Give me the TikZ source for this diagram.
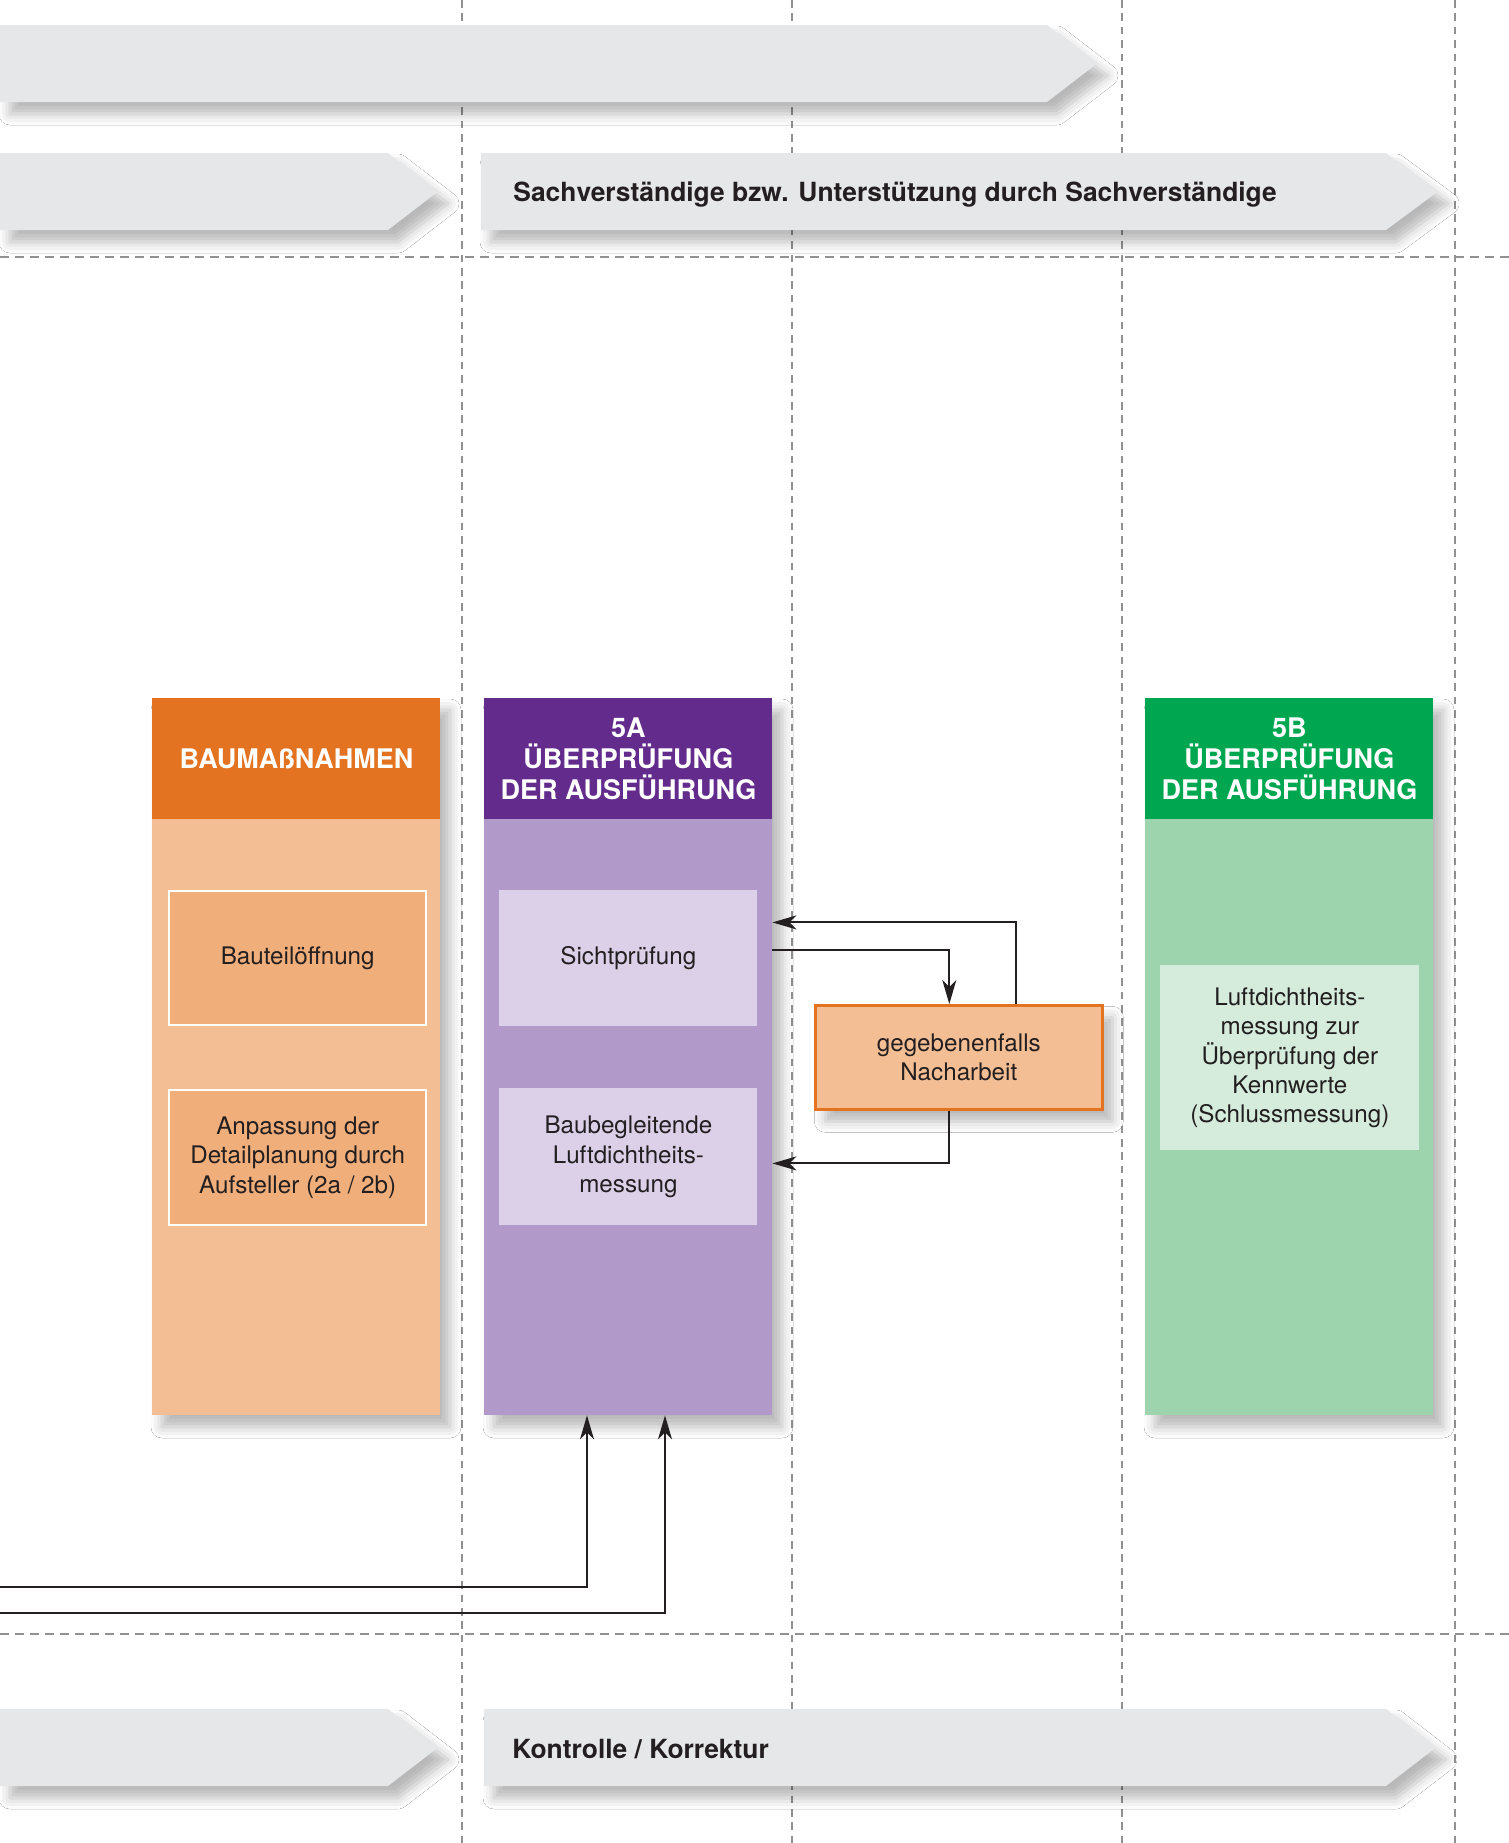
\documentclass[tikz,border=0pt]{standalone}
\usepackage{fontspec}
\setmainfont{TeX Gyre Heros}
\usetikzlibrary{arrows.meta,positioning,calc,fit,shadows.blur}
\definecolor{orangeDark}{RGB}{227,115,32}
\definecolor{orangeLight}{RGB}{244,190,148}
\definecolor{orangeMid}{RGB}{240,174,123}
\definecolor{purpleDark}{RGB}{99,44,140}
\definecolor{purpleLight}{RGB}{177,154,202}
\definecolor{purplePale}{RGB}{219,208,231}
\definecolor{greenDark}{RGB}{0,166,80}
\definecolor{greenLight}{RGB}{157,212,174}
\definecolor{greenPale}{RGB}{213,235,219}
\definecolor{bandGrey}{RGB}{230,231,232}
\definecolor{lineGrey}{RGB}{145,145,145}
\definecolor{inkDark}{RGB}{35,31,32}

\begin{document}
\begin{tikzpicture}[
    x=0.5pt,y=-0.5pt,
    grid/.style={lineGrey,line width=1.2pt,dash pattern=on 3.8pt off 2.9pt},
    softshadow/.style={blur shadow={shadow xshift=5pt,shadow yshift=-6pt,
        shadow blur radius=5.5pt,shadow opacity=28}},
    band/.style={fill=bandGrey,softshadow},
    bandtext/.style={anchor=west,inner sep=0pt,text=inkDark,
        font=\fontsize{13.2}{15}\selectfont\bfseries},
    colbody/.style={inner sep=0pt,softshadow},
    colhead/.style={inner sep=0pt,anchor=north west,minimum width=144pt,
        minimum height=60.5pt,text=white,align=center,
        font=\fontsize{13.5}{15.3}\selectfont\bfseries},
    task/.style={inner sep=0pt,anchor=north west,align=center,text=inkDark,
        font=\fontsize{12.1}{14.7}\selectfont},
    conn/.style={-{Stealth[length=12pt,width=7pt,inset=3.5pt]},line width=1pt,inkDark}
  ]
    \fill[white] (0,0) rectangle (1509,1843);
    \useasboundingbox (0,0) rectangle (1509,1843);

    \foreach \x in {462,792,1122,1455}{
      \draw[grid] (\x,0) -- (\x,1843);
    }
    \foreach \y in {257,1634}{
      \draw[grid,dash pattern=on 4.5pt off 3pt] (0,\y) -- (1509,\y);
    }

    \fill[band] (0,25) -- (1047,25) -- (1097,63.5) -- (1047,102) -- (0,102) -- cycle;
    \fill[band] (0,153) -- (388,153) -- (438,191.5) -- (388,230) -- (0,230) -- cycle;
    \fill[band] (481,153) -- (1386,153) -- (1438,191.5) -- (1386,230) -- (481,230) -- cycle;
    \fill[band] (0,1709) -- (388,1709) -- (438,1747.5) -- (388,1786) -- (0,1786) -- cycle;
    \fill[band] (484,1709) -- (1386,1709) -- (1436,1747.5) -- (1386,1786) -- (484,1786) -- cycle;
    \node[bandtext] (expert) at (513,195)
      {Sachverständige bzw. Unterstützung durch Sachverständige};
    \node[bandtext] (control) at (512,1749) {Kontrolle / Korrektur};

    \foreach \x/\name/\light in {152/B/orangeLight,484/A/purpleLight,1145/C/greenLight}{
      \node[colbody,fill=\light,fit={(\x,698) (\x+288,1415)}] (col\name) {};
    }
    \node[colhead,fill=orangeDark] (headB) at (152,698)
      {BAUMAßNAHMEN};
    \node[colhead,fill=purpleDark] (headA) at (484,698)
      {5A\\ÜBERPRÜFUNG\\DER AUSFÜHRUNG};
    \node[colhead,fill=greenDark] (headC) at (1145,698)
      {5B\\ÜBERPRÜFUNG\\DER AUSFÜHRUNG};

    \node[task,fill=orangeMid,draw=white,line width=1.2pt,
      minimum width=128.5pt,minimum height=67pt] (opening) at (168,890)
      {Bauteilöffnung};
    \node[task,fill=orangeMid,draw=white,line width=1.2pt,
      minimum width=128.5pt,minimum height=67.5pt] (adjust) at (168,1089)
      {Anpassung der\\Detailplanung durch\\Aufsteller (2a / 2b)};
    \node[task,fill=purplePale,minimum width=129pt,minimum height=68pt] (visual) at (499,890)
      {Sichtprüfung};
    \node[task,fill=purplePale,minimum width=129pt,minimum height=68.5pt] (interim) at (499,1088)
      {Baubegleitende\\Luftdichtheits-\\messung};
    \node[task,fill=greenPale,minimum width=129.5pt,minimum height=92.5pt] (final) at (1160,965)
      {Luftdichtheits-\\messung zur\\Überprüfung der\\Kennwerte\\(Schlussmessung)};
    \node[task,fill=orangeLight,draw=orangeDark,line width=1.3pt,softshadow,
      minimum width=143.5pt,minimum height=52pt] (rework) at (814,1004)
      {gegebenenfalls\\Nacharbeit};

    \draw[conn] ([xshift=28.75pt]rework.north) |- ($(visual.east -| colA.east)+(0,-36)$);
    \draw[conn] ($(visual.east -| colA.east)+(0,-8)$) -| ([xshift=-4.75pt]rework.north);
    \draw[conn] ([xshift=-4.75pt]rework.south) |- ($(interim.east -| colA.east)+(0,6.5)$);

    \coordinate (inUpper) at (0,1587);
    \coordinate (inLower) at (0,1613);
    \draw[conn] (inUpper) -| ([xshift=-20.5pt]colA.south);
    \draw[conn] (inLower) -| ([xshift=18.5pt]colA.south);
  \end{tikzpicture}
\end{document}
